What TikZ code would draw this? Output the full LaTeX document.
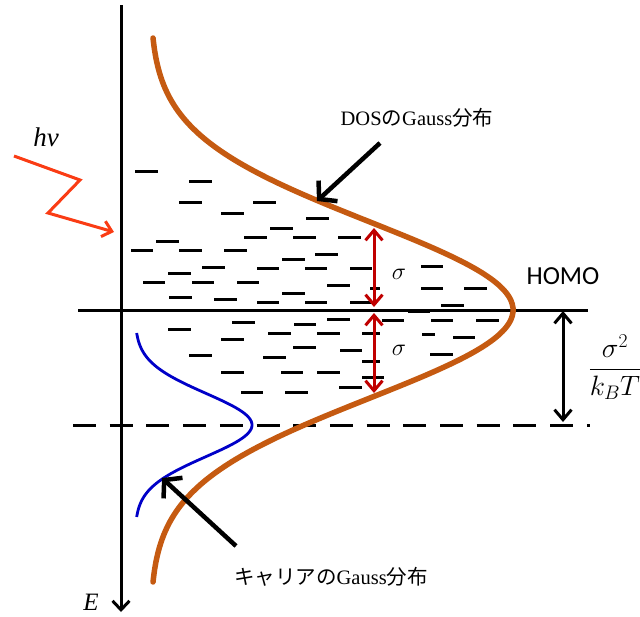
\RequirePackage{fix-cm}
\documentclass[tikz,border=0pt]{standalone}
\usepackage{fontspec}
\setmainfont{Liberation Serif}
\newfontfamily\jpfont{Noto Sans CJK JP}
\newfontfamily\homofont{Carlito}
\usetikzlibrary{arrows.meta}
\definecolor{dosorange}{RGB}{197,90,17}
\definecolor{carblue}{RGB}{0,0,200}
\definecolor{sigred}{RGB}{192,0,0}
\definecolor{photon}{RGB}{250,60,20}
\begin{document}
\begin{tikzpicture}[x=1pt,y=-1pt,
  lvl/.style={line width=3pt},
  mainline/.style={line width=3pt},
  barb/.style={-{Straight Barb[length=9pt,width=17pt]}},
  dbarb/.style={{Straight Barb[length=10pt,width=17pt]}-{Straight Barb[length=10pt,width=17pt]}},
  bigbarb/.style={line width=4.5pt,-{Straight Barb[length=12pt,width=28pt]}},
  lab/.style={inner sep=0pt},
]
\useasboundingbox (0,0) rectangle (640,616);

% energy levels
\foreach \a/\b/\y in {
135/158/171, 189/212/181, 179/202/202, 253/276/202, 221/244/213, 306/329/218,
270/293/228, 244/267/237, 293/316/237, 338/361/237, 156/179/241, 131/153/250,
179/202/250, 224/247/250, 315/338/254, 282/305/259, 202/225/267, 257/279/268,
305/327/268, 350/372/268, 421/443/266, 168/191/273, 143/165/282, 192/214/282,
237/259/282, 327/350/285, 370/380/288, 421/443/288, 464/487/288, 169/192/297,
214/237/299, 282/305/293, 257/279/302, 305/327/302, 350/372/302, 441/464/305,
408/430/311,
232/255/322, 294/316/324, 327/350/319, 382/404/320, 431/453/320, 476/499/320,
168/191/329, 268/291/333, 317/340/333, 362/380/333, 422/435/334, 453/475/337,
221/244/339, 293/316/347, 340/362/350, 430/453/354, 189/212/355, 263/286/357,
362/380/361, 221/244/372, 281/303/372, 317/340/372, 362/384/377, 241/263/392,
285/308/392, 339/362/387}
  \draw[lvl] (\a,\y) -- (\b,\y);

% coordinates
\coordinate (axtop) at (121,5);
\coordinate (axbot) at (121,612);
\coordinate (homoL) at (78,310);
\coordinate (homoR) at (588,310);
\coordinate (dashL) at (73,425);
\coordinate (dashR) at (590,425);

% axis
\draw[mainline,barb] (axtop) -- (axbot);
\node[lab] (E) at (91,602) {\fontsize{25}{28}\selectfont\itshape E};

% HOMO line and dashed line
\draw[mainline] (homoL) -- (homoR);
\draw[line width=3pt,dash pattern=on 23pt off 13.7pt] (dashL) -- (dashR);

% DOS gaussian
\draw[dosorange,line width=5.5pt,line cap=round] plot[variable=\t,domain=38:582,samples=140,smooth]
  ({150+363*exp(-((\t-310)/100)*((\t-310)/100)/1.5454)},{\t});

% carrier gaussian
\draw[carblue,line width=2.8pt] plot[variable=\t,domain=333:517,samples=120,smooth]
  ({135+117*exp(-((\t-425)/10)*((\t-425)/10)/20)},{\t});

% sigma arrows
\coordinate (s1t) at (374,228);
\coordinate (s1b) at (374,307);
\coordinate (s2t) at (374,313);
\coordinate (s2b) at (374,393);
\draw[sigred,line width=3pt,dbarb] (s1t) -- (s1b);
\draw[sigred,line width=3pt,dbarb] (s2t) -- (s2b);
\node[lab] (sig1) at (399,274) {\fontsize{24}{28}\selectfont$\sigma$};
\node[lab] (sig2) at (399,350) {\fontsize{24}{28}\selectfont$\sigma$};

% right arrow
\coordinate (rt) at (563,311);
\coordinate (rb) at (563,422);
\draw[line width=3pt,dbarb] (rt) -- (rb);
\node[lab] (frac) at (615,367) {\fontsize{28}{32}\selectfont$\displaystyle\frac{\sigma^2}{k_BT}$};

% HOMO label
\node[lab] (homo) at (563,276) {\homofont\fontsize{26}{30}\selectfont HOMO};

% DOS label + arrow
\node[lab] (doslab) at (417,118) {\fontsize{20.5}{24}\selectfont DOS{\jpfont の}Gauss{\jpfont 分布}};
\coordinate (dosT) at (380,143);
\coordinate (dosH) at (317,201);
\draw[bigbarb] (dosT) -- (dosH);

% carrier label + arrow
\node[lab] (carlab) at (331,577) {\fontsize{20.5}{24}\selectfont{\jpfont キャリアの}Gauss{\jpfont 分布}};
\coordinate (carT) at (236,546);
\coordinate (carH) at (162,478);
\draw[bigbarb] (carT) -- (carH);

% photon
\node[lab] (hv) at (46,137) {\fontsize{27}{30}\selectfont\itshape hv};
\coordinate (p0) at (14,156);
\coordinate (p1) at (80,180);
\coordinate (p2) at (48,213);
\coordinate (p3) at (114,232);
\draw[photon,line width=3pt,-{Straight Barb[length=9pt,width=16pt]}] (p0) -- (p1) -- (p2) -- (p3);
\end{tikzpicture}
\end{document}
